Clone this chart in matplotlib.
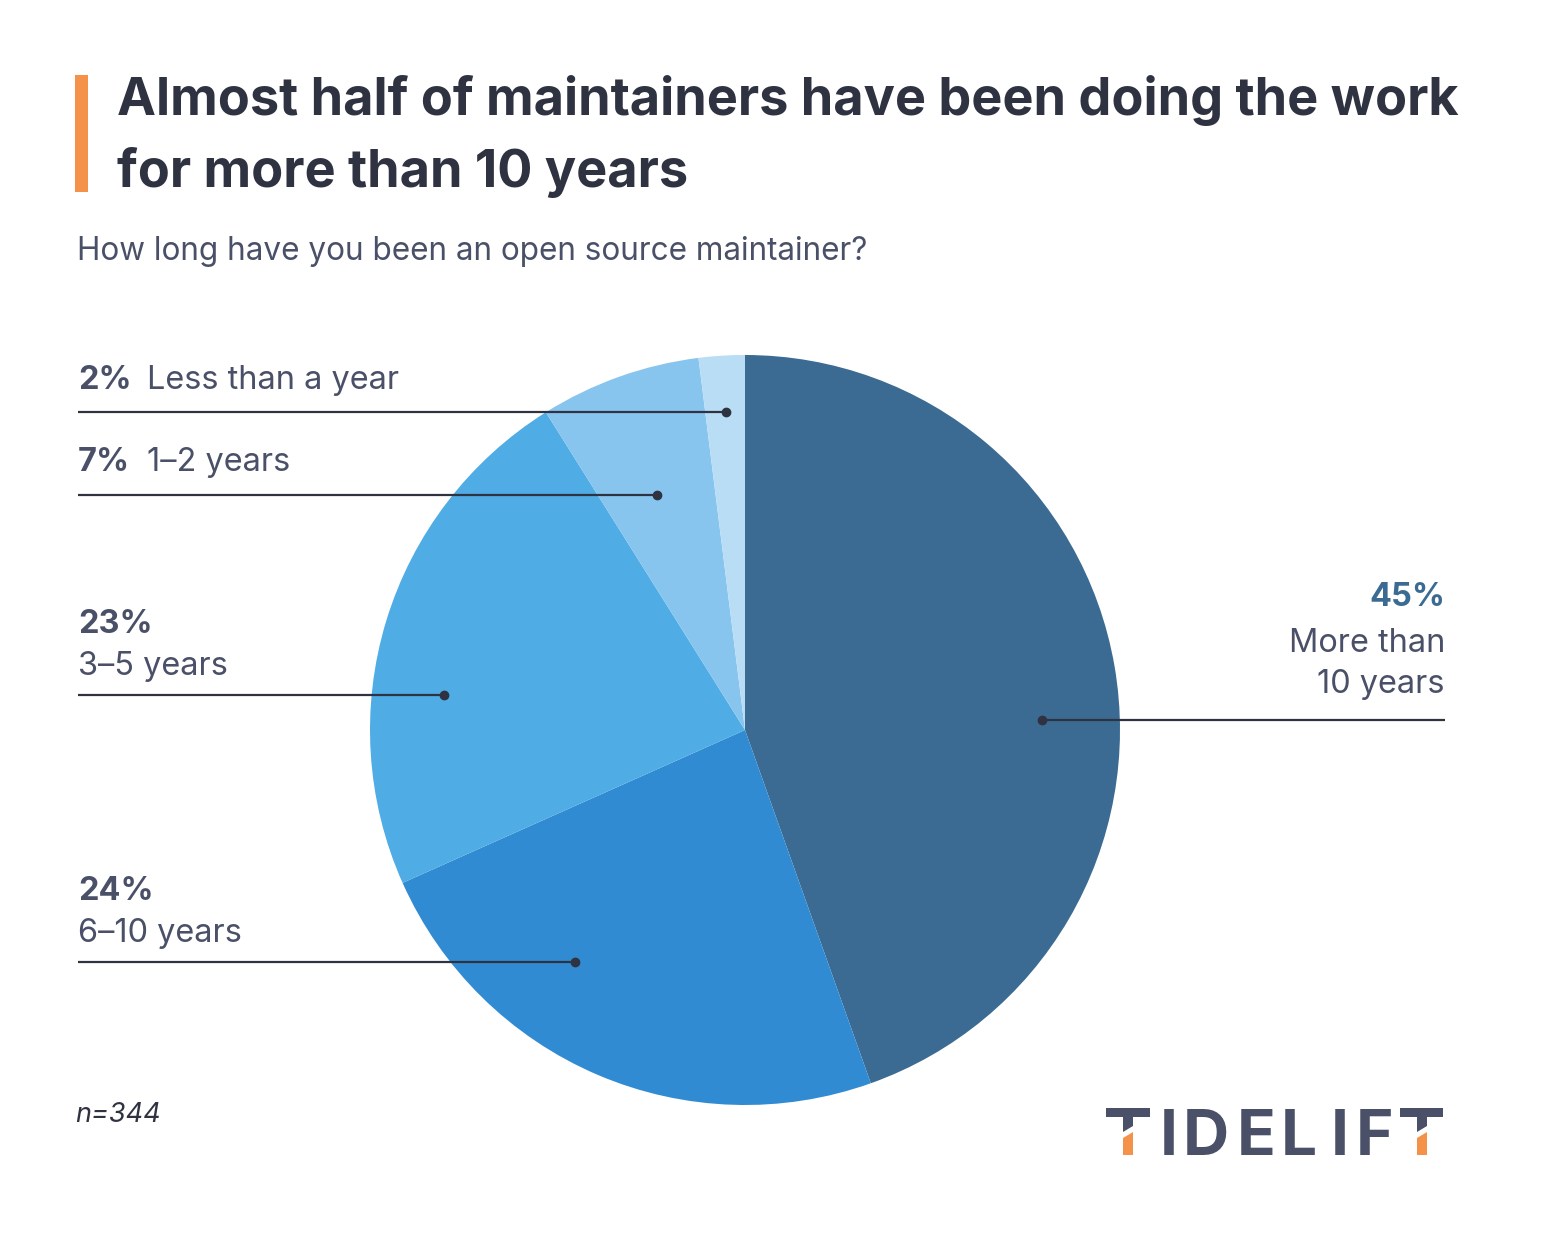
import matplotlib.pyplot as plt
from matplotlib.patches import Rectangle, Polygon

W, H = 1541, 1257

labels = ['More than\n10 years', '6–10 years', '3–5 years', '1–2 years', 'Less than a year']
values = [45, 24, 23, 7, 2]
colors = ['#3b6b92', '#318bd2', '#4face5', '#87c5ee', '#b8ddf5']

title_lines = ['Almost half of maintainers have been doing the work', 'for more than 10 years']
subtitle = 'How long have you been an open source maintainer?'
note = 'n=344'

dark = '#2f3241'
slate = '#4a5068'
orange = '#f5924a'

plt.rcParams['font.family'] = ['Inter', 'DejaVu Sans']

fig = plt.figure(figsize=(W / 100, H / 100), dpi=100)
ax = fig.add_axes([0, 0, 1, 1])
ax.set_xlim(0, W)
ax.set_ylim(0, H)
ax.set_aspect('equal')
ax.axis('off')


def Y(y):
    return H - y


# pie
ax.pie(values, colors=colors, center=(745, Y(730)), radius=375, startangle=90,
       counterclock=False, wedgeprops=dict(linewidth=0))
ax.set_xlim(0, W)
ax.set_ylim(0, H)

# title block
ax.add_patch(Rectangle((75, Y(192)), 13, 117, color=orange, lw=0))
for line, base in zip(title_lines, [115, 187]):
    ax.text(117, Y(base), line, fontsize=37.6, fontweight='bold', color=dark,
            va='baseline', ha='left')
ax.text(77, Y(260), subtitle, fontsize=22.7, color=slate, va='baseline', ha='left')
ax.text(75, Y(1122), note, fontsize=19.5, style='italic', color=dark, va='baseline')

# callouts
lx = 78
fs = 23.4
# 2%
ax.text(lx, Y(389), f'{values[4]}%', fontsize=fs, fontweight='bold', color=slate, va='baseline')
ax.text(147, Y(389), labels[4], fontsize=fs, color=slate, va='baseline')
# 7%
ax.text(lx, Y(471), f'{values[3]}%', fontsize=fs, fontweight='bold', color=slate, va='baseline')
ax.text(147, Y(471), labels[3], fontsize=fs, color=slate, va='baseline')
# 23%
ax.text(lx, Y(633), f'{values[2]}%', fontsize=fs, fontweight='bold', color=slate, va='baseline')
ax.text(lx, Y(675), labels[2], fontsize=fs, color=slate, va='baseline')
# 24%
ax.text(lx, Y(900), f'{values[1]}%', fontsize=fs, fontweight='bold', color=slate, va='baseline')
ax.text(lx, Y(942), labels[1], fontsize=fs, color=slate, va='baseline')
# 45%
ax.text(1445, Y(606), f'{values[0]}%', fontsize=fs, fontweight='bold', color=colors[0],
        va='baseline', ha='right')
for line, base in zip(labels[0].split('\n'), [652, 693]):
    ax.text(1445, Y(base), line, fontsize=fs, color=slate, va='baseline', ha='right')

leaders = [((lx, 726), 412), ((lx, 657), 495), ((lx, 444), 695), ((lx, 575), 962),
           ((1445, 1042), 720)]
for (x0, x1), y in leaders:
    ax.plot([x0, x1], [Y(y), Y(y)], color=dark, lw=1.6, solid_capstyle='butt')
    ax.plot(x1, Y(y), 'o', color=dark, ms=6)

# logo
for tx, bw in ((1106, 44), (1400, 43)):
    ax.add_patch(Rectangle((tx, Y(1117)), bw, 9, color=slate, lw=0))
    ax.add_patch(Polygon([(tx + 17, Y(1116)), (tx + 27, Y(1116)), (tx + 27, Y(1126)),
                          (tx + 17, Y(1132))], color=slate, lw=0))
    ax.add_patch(Polygon([(tx + 17, Y(1138)), (tx + 27, Y(1132)), (tx + 27, Y(1155)),
                          (tx + 17, Y(1155))], color=orange, lw=0))
for ch, cx in zip('IDELIF', [1169, 1206, 1256, 1299, 1340, 1375]):
    ax.text(cx, Y(1155), ch, fontsize=46, fontweight='bold', color=slate,
            ha='center', va='baseline')

fig.savefig('out.png', dpi=100, facecolor='white')
